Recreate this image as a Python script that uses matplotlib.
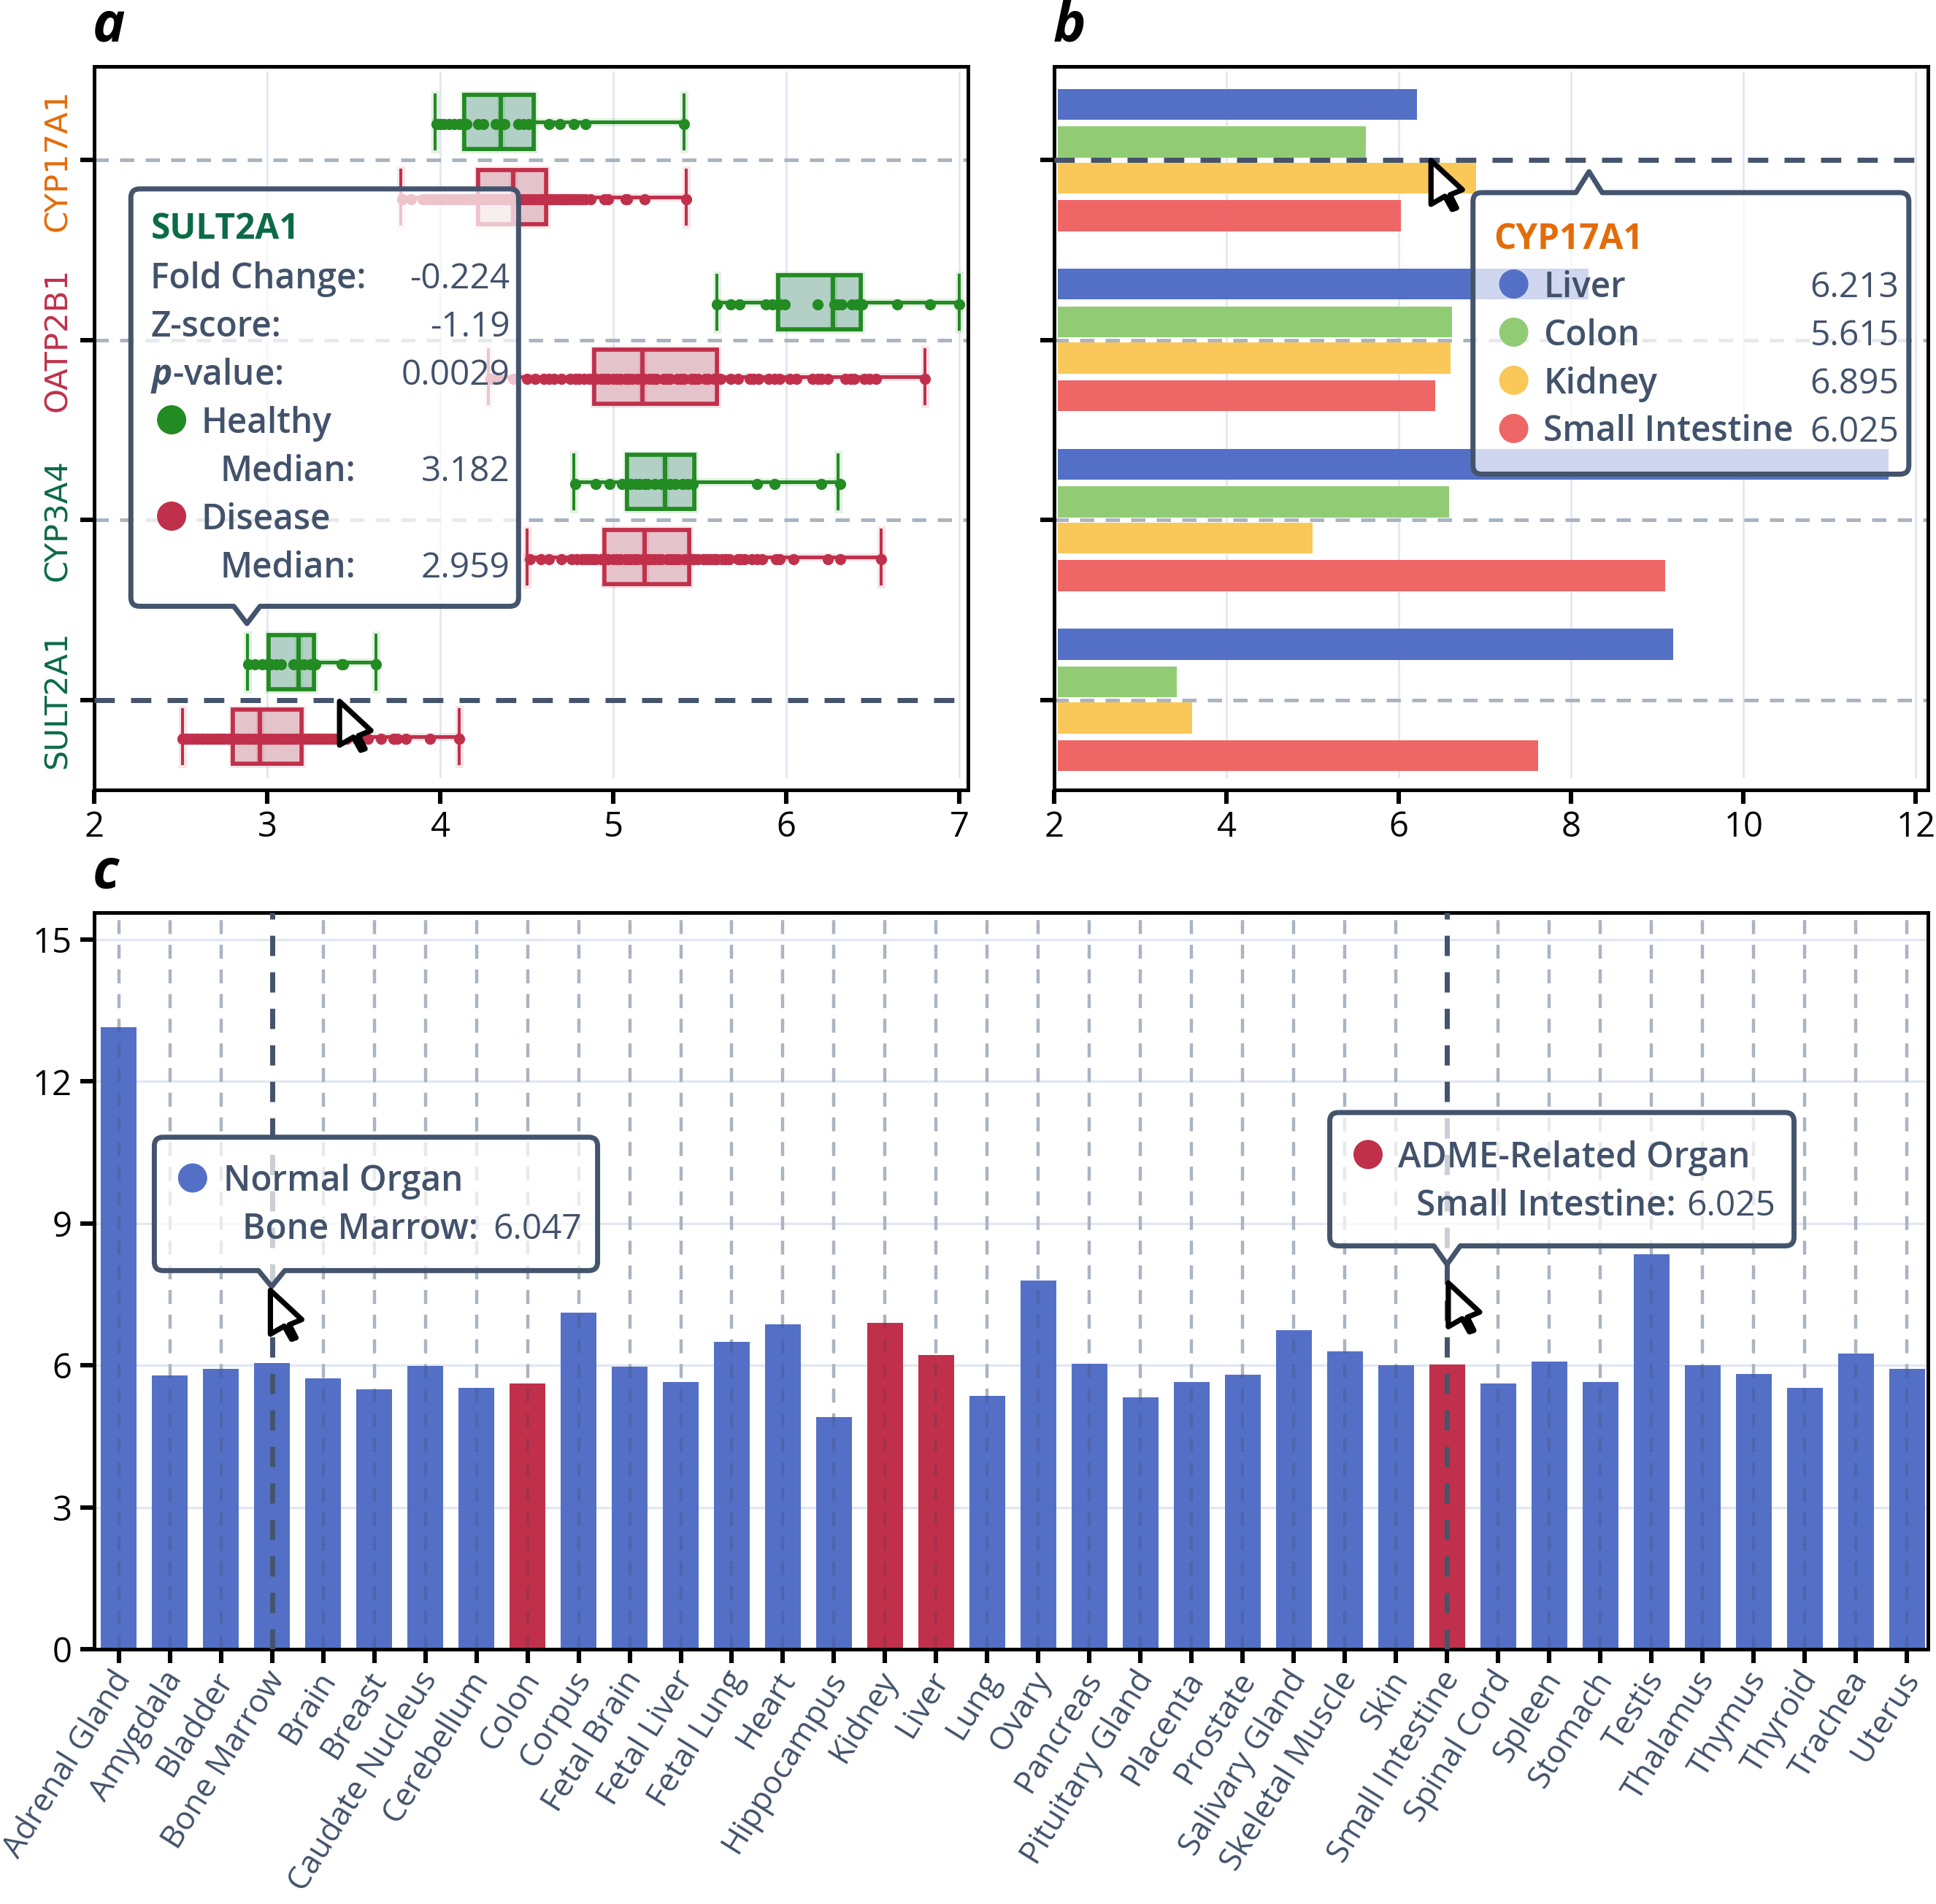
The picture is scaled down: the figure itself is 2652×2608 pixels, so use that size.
"""Gene expression panels with tooltips (boxplots, grouped bars, organ bars)."""
import matplotlib
matplotlib.use("Agg")
import matplotlib.pyplot as plt
import matplotlib.patheffects as pe
from matplotlib.patches import PathPatch, Polygon, Circle
from matplotlib.path import Path
from matplotlib.transforms import ScaledTranslation

# ---- data ----------------------------------------------------------------
GENES = ["CYP17A1", "OATP2B1", "CYP3A4", "SULT2A1"]
GENE_COLORS = ["#e36c09", "#c1304b", "#0b6b45", "#0b6b45"]

# box stats per gene, top to bottom: whisker low, q1, median, q3, whisker high
HEALTHY_LO = [3.97, 5.60, 4.77, 2.885]
HEALTHY_Q1 = [4.14, 5.955, 5.08, 3.01]
HEALTHY_MED = [4.35, 6.27, 5.30, 3.182]
HEALTHY_Q3 = [4.54, 6.43, 5.47, 3.27]
HEALTHY_HI = [5.41, 7.00, 6.30, 3.63]

DISEASE_LO = [3.77, 4.28, 4.50, 2.51]
DISEASE_Q1 = [4.22, 4.89, 4.95, 2.80]
DISEASE_MED = [4.42, 5.17, 5.18, 2.959]
DISEASE_Q3 = [4.61, 5.60, 5.44, 3.20]
DISEASE_HI = [5.42, 6.80, 6.55, 4.11]

HEALTHY_PTS = [
    [3.98, 4.0, 4.02, 4.05, 4.08, 4.11, 4.13, 4.15, 4.22, 4.25, 4.32, 4.35, 4.37,
     4.45, 4.48, 4.51, 4.63, 4.69, 4.77, 4.84, 5.41],
    [5.6, 5.68, 5.73, 5.88, 5.92, 5.96, 5.99, 6.18, 6.28, 6.3, 6.32, 6.38, 6.41,
     6.44, 6.64, 6.83, 7.0],
    [4.78, 4.9, 4.98, 5.05, 5.1, 5.13, 5.15, 5.18, 5.2, 5.24, 5.28, 5.3, 5.33,
     5.36, 5.4, 5.43, 5.46, 5.83, 5.93, 6.2, 6.31],
    [2.89, 2.93, 2.97, 3.0, 3.02, 3.05, 3.08, 3.15, 3.18, 3.21, 3.25, 3.28, 3.43,
     3.44, 3.63],
]
DISEASE_PTS = [
    [3.78, 3.83, 3.9, 3.92, 3.94, 3.96, 3.98, 4.0, 4.02, 4.04, 4.05, 4.07, 4.09, 4.11,
     4.12, 4.14, 4.16, 4.18, 4.19, 4.21, 4.22, 4.24, 4.25, 4.27, 4.28, 4.3, 4.32, 4.34,
     4.35, 4.37, 4.38, 4.4, 4.41, 4.43, 4.45, 4.47, 4.48, 4.5, 4.51, 4.53, 4.55, 4.57,
     4.58, 4.6, 4.62, 4.64, 4.65, 4.67, 4.69, 4.71, 4.72, 4.74, 4.76, 4.78, 4.8, 4.82,
     4.84, 4.87, 4.95, 4.97, 5.07, 5.08, 5.18, 5.42],
    [4.29, 4.34, 4.42, 4.5, 4.55, 4.6, 4.63, 4.66, 4.7, 4.75, 4.78, 4.8, 4.83, 4.86,
     4.88, 4.9, 4.93, 4.95, 4.97, 5.0, 5.02, 5.04, 5.07, 5.09, 5.11, 5.14, 5.16, 5.18,
     5.21, 5.23, 5.25, 5.29, 5.31, 5.33, 5.37, 5.39, 5.41, 5.45, 5.47, 5.49, 5.53, 5.55,
     5.58, 5.62, 5.68, 5.72, 5.79, 5.81, 5.84, 5.9, 5.93, 5.96, 6.02, 6.06, 6.15, 6.18,
     6.2, 6.24, 6.34, 6.37, 6.39, 6.45, 6.48, 6.52, 6.8],
    [4.52, 4.58, 4.63, 4.7, 4.76, 4.79, 4.82, 4.84, 4.86, 4.88, 4.9, 4.93, 4.95, 4.97,
     5.0, 5.02, 5.04, 5.07, 5.09, 5.1, 5.12, 5.14, 5.17, 5.19, 5.2, 5.22, 5.24, 5.26,
     5.28, 5.31, 5.33, 5.34, 5.36, 5.38, 5.41, 5.43, 5.45, 5.47, 5.49, 5.52, 5.54, 5.56,
     5.58, 5.6, 5.63, 5.65, 5.67, 5.72, 5.74, 5.76, 5.8, 5.83, 5.86, 5.94, 5.96, 6.04,
     6.24, 6.31, 6.55],
    [2.51, 2.53, 2.54, 2.56, 2.57, 2.59, 2.6, 2.62, 2.63, 2.65, 2.66, 2.68, 2.69, 2.71,
     2.72, 2.74, 2.75, 2.77, 2.78, 2.8, 2.81, 2.83, 2.84, 2.86, 2.87, 2.89, 2.9, 2.92,
     2.93, 2.95, 2.96, 2.98, 2.99, 3.01, 3.02, 3.04, 3.05, 3.07, 3.08, 3.1, 3.11, 3.13,
     3.14, 3.16, 3.17, 3.19, 3.2, 3.22, 3.23, 3.25, 3.26, 3.28, 3.29, 3.31, 3.33, 3.35,
     3.37, 3.39, 3.41, 3.46, 3.52, 3.58, 3.66, 3.73, 3.75, 3.8, 3.94, 4.11],
]

# panel b, genes top to bottom
ORGANS = ["Liver", "Colon", "Kidney", "Small Intestine"]
ORGAN_COLORS = ["#5470c6", "#91cc75", "#fac858", "#ee6666"]
LIVER_VALS = [6.213, 8.2, 11.68, 9.18]
COLON_VALS = [5.615, 6.62, 6.58, 3.42]
KIDNEY_VALS = [6.895, 6.6, 5.0, 3.6]
SMALL_INT_VALS = [6.025, 6.42, 9.09, 7.62]

# panel c
TISSUES = ["Adrenal Gland", "Amygdala", "Bladder", "Bone Marrow", "Brain", "Breast",
           "Caudate Nucleus", "Cerebellum", "Colon", "Corpus", "Fetal Brain",
           "Fetal Liver", "Fetal Lung", "Heart", "Hippocampus", "Kidney", "Liver",
           "Lung", "Ovary", "Pancreas", "Pituitary Gland", "Placenta", "Prostate",
           "Salivary Gland", "Skeletal Muscle", "Skin", "Small Intestine",
           "Spinal Cord", "Spleen", "Stomach", "Testis", "Thalamus", "Thymus",
           "Thyroid", "Trachea", "Uterus"]
TISSUE_VALS = [13.15, 5.78, 5.92, 6.047, 5.72, 5.5, 5.98, 5.53, 5.615, 7.12, 5.97,
               5.65, 6.5, 6.87, 4.9, 6.895, 6.213, 5.36, 7.8, 6.03, 5.33, 5.65, 5.8,
               6.75, 6.3, 6.0, 6.025, 5.62, 6.08, 5.65, 8.35, 6.0, 5.82, 5.52, 6.25,
               5.92]
ADME = ["Colon", "Kidney", "Liver", "Small Intestine"]

# ---- style ---------------------------------------------------------------
INK = "#42526b"
GRID = "#e2e7f2"
DASH = "#abb4c1"
DARK = "#44546d"
BLUE, RED, GREEN = "#5470c6", "#c1304b", "#228b22"
S = 2652 / 1568

plt.rcParams.update({
    "font.family": ["Open Sans", "DejaVu Sans"],
    "mathtext.fontset": "custom",
    "mathtext.bfit": "Open Sans:italic:bold",
    "axes.linewidth": 1.8,
    "xtick.major.size": 7, "xtick.major.width": 2.2, "xtick.major.pad": 3,
    "ytick.major.size": 7, "ytick.major.width": 2.2, "ytick.major.pad": 4,
    "xtick.labelsize": 17, "ytick.labelsize": 17,
})

W, H = 2652, 2608
fig = plt.figure(figsize=(W / 200, H / 200), dpi=200, facecolor="white")


def add_ax(x0, y0, x1, y1):
    return fig.add_axes([x0 / W, 1 - y1 / H, (x1 - x0) / W, (y1 - y0) / H])


def gray_h(ax, y):
    ax.axhline(y, color=DASH, lw=1.8, dashes=(3.9, 3.1), zorder=1.5)


def dark_h(ax, y):
    ax.axhline(y, color=DARK, lw=2.5, dashes=(4.0, 3.2), zorder=6)


# ---- panel a -------------------------------------------------------------
ax_a = add_ax(129, 91, 1326, 1082)
ax_a.set_xlim(2, 7.05)
ax_a.set_ylim(-0.5, 3.52)
ax_a.set_xticks([2, 3, 4, 5, 6, 7])
ypos = [3, 2, 1, 0]
ax_a.set_yticks(ypos)
ax_a.set_yticklabels([])
for x in [3, 4, 5, 6, 7]:
    ax_a.axvline(x, ymin=0.018, ymax=0.992, color=GRID, lw=1.0, zorder=0)
for y, g in zip(ypos, GENES):
    if g == "SULT2A1":
        dark_h(ax_a, y)
    else:
        gray_h(ax_a, y)


def boxes(ax, lo, q1, med, q3, hi, pts, off, col, fill):
    stats = [dict(whislo=a, q1=b, med=c, q3=d, whishi=e)
             for a, b, c, d, e in zip(lo, q1, med, q3, hi)]
    pos = [y + off for y in ypos]
    soft = [pe.withStroke(linewidth=4, foreground=col, alpha=0.12), pe.Normal()]
    art = ax.bxp(stats, positions=pos, widths=0.3, capwidths=0.3, orientation="horizontal",
                 patch_artist=True, showfliers=False, manage_ticks=False,
                 boxprops=dict(facecolor=fill, edgecolor=col, linewidth=2.0),
                 medianprops=dict(color=col, linewidth=2.0),
                 whiskerprops=dict(color=col, linewidth=1.7),
                 capprops=dict(color=col, linewidth=1.4), zorder=3)
    for key in ["boxes", "medians", "whiskers", "caps"]:
        for a in art[key]:
            a.set_path_effects(soft)
    for p, vals in zip(pos, pts):
        ax.scatter(vals, [p - 0.012] * len(vals), s=30, color=col, lw=0, zorder=4)


boxes(ax_a, HEALTHY_LO, HEALTHY_Q1, HEALTHY_MED, HEALTHY_Q3, HEALTHY_HI, HEALTHY_PTS,
      0.21, GREEN, "#b2d0c5")
boxes(ax_a, DISEASE_LO, DISEASE_Q1, DISEASE_MED, DISEASE_Q3, DISEASE_HI, DISEASE_PTS,
      -0.205, RED, "#e5c3ca")

# gene labels are a bit wider than the tick font
for y, g, c in zip(ypos, GENES, GENE_COLORS):
    ax_a.annotate(g, xy=(0, y), xycoords=("axes fraction", "data"), xytext=(-50 / 2.78, 0),
                  textcoords="offset points", rotation=90, ha="center", va="center",
                  fontsize=15.6, color=c, family="DejaVu Sans")

# ---- panel b -------------------------------------------------------------
ax_b = add_ax(1444, 91, 2641, 1082)
ax_b.set_xlim(2, 12.14)
ax_b.set_ylim(-0.5, 3.52)
ax_b.set_xticks([2, 4, 6, 8, 10, 12])
ax_b.set_yticks(ypos)
ax_b.set_yticklabels([])
for x in [4, 6, 8, 10, 12]:
    ax_b.axvline(x, ymin=0.018, ymax=0.992, color=GRID, lw=1.0, zorder=0)
for y, g in zip(ypos, GENES):
    if g == "CYP17A1":
        dark_h(ax_b, y)
    else:
        gray_h(ax_b, y)
base = 2.04
offsets = [0.31, 0.1, -0.1, -0.31]
for vals, off, col in zip([LIVER_VALS, COLON_VALS, KIDNEY_VALS, SMALL_INT_VALS], offsets, ORGAN_COLORS):
    ax_b.barh([y + off for y in ypos], [v - base for v in vals], left=base,
              height=0.172, color=col, zorder=2)

# ---- panel c -------------------------------------------------------------
ax_c = add_ax(129, 1250, 2641, 2259)
xs = list(range(len(TISSUES)))
ax_c.set_xlim(-0.48, 35.41)
ax_c.set_ylim(0, 15.57)
ax_c.set_yticks([0, 3, 6, 9, 12, 15])
for y in [3, 6, 9, 12, 15]:
    ax_c.axhline(y, color=GRID, lw=1.2, zorder=0)
colors = [RED if t in ADME else BLUE for t in TISSUES]
ax_c.bar(xs, TISSUE_VALS, width=0.7, color=colors, zorder=2)
for x, t, v in zip(xs, TISSUES, TISSUE_VALS):
    if t in ("Bone Marrow", "Small Intestine"):
        ax_c.axvline(x, color=DARK, lw=2.5, dashes=(4.0, 3.2), zorder=5)
    else:
        # gray on white, only a slightly darker shade where it crosses the bar
        ax_c.axvline(x, color=DASH, lw=1.6, dashes=(4.3, 3.3), zorder=1)
        ax_c.plot([x, x], [0, v], color="#2f3d52", lw=1.6, dashes=(4.3, 3.3), zorder=3, alpha=0.2)
ax_c.set_xticks(xs)
ax_c.set_xticklabels(TISSUES, rotation=58, ha="right", va="top", rotation_mode="anchor",
                     color=INK, fontsize=15.8)
ax_c.tick_params(axis="x", pad=1)
nudge = ScaledTranslation(-4 / 72, 0, fig.dpi_scale_trans)
for lab in ax_c.get_xticklabels():
    lab.set_transform(lab.get_transform() + nudge)

# ---- overlay: tooltips, cursors, panel letters ---------------------------
ov = fig.add_axes([0, 0, 1, 1], zorder=10)
ov.set_xlim(0, W)
ov.set_ylim(H, 0)
ov.axis("off")
ov.patch.set_alpha(0)


def tooltip(x0, y0, x1, y1, tipx, tipy):
    """Rounded box with a small pointer on the top or bottom edge (preview coords)."""
    x0, y0, x1, y1, tipx, tipy = [v * S for v in (x0, y0, x1, y1, tipx, tipy)]
    r = 12
    hw = 18
    M, L, C = Path.MOVETO, Path.LINETO, Path.CURVE3
    v = [(x0 + r, y0)]
    c = [M]
    if tipy < y0:
        v += [(tipx - hw, y0), (tipx, tipy), (tipx + hw, y0)]
        c += [L, L, L]
    v += [(x1 - r, y0), (x1, y0), (x1, y0 + r), (x1, y1 - r), (x1, y1), (x1 - r, y1)]
    c += [L, C, C, L, C, C]
    if tipy > y1:
        v += [(tipx + hw, y1), (tipx, tipy), (tipx - hw, y1)]
        c += [L, L, L]
    v += [(x0 + r, y1), (x0, y1), (x0, y1 - r), (x0, y0 + r), (x0, y0), (x0 + r, y0)]
    c += [L, C, C, L, C, C]
    ov.add_patch(PathPatch(Path(v, c), fc=(1, 1, 1, 0.72), ec=DARK, lw=2.5, zorder=2, joinstyle="round"))


def T(x, y, s, ha="left", w="normal", col=INK, fs=17.2, st="normal"):
    ov.text(x * S, (y + 1) * S, s, ha=ha, va="center", fontweight=w, color=col, fontsize=fs,
            style=st, zorder=3)


def dot(x, y, col):
    ov.add_patch(Circle((x * S, y * S), 20, fc=col, ec="none", zorder=3))


CURSOR = [(0, 0), (0, 60), (19, 49), (29, 67), (35, 65), (26, 47), (43, 40)]


def cursor(x, y):
    pts = [(x * S + a, y * S + b) for a, b in CURSOR]
    ov.add_patch(Polygon(pts, closed=True, fc="white", ec="black", lw=2.6, joinstyle="round", zorder=4))


# panel a tooltip
tooltip(106, 153, 420, 491, 200, 505)
T(122, 185, "SULT2A1", w="bold", col=GENE_COLORS[3])
T(122, 225, "Fold Change:", w=600)
T(413, 225, "-0.224", ha="right")
T(122, 264, "Z-score:", w=600)
T(413, 264, "-1.19", ha="right")
T(122, 303, r"$\mathbfit{p}$-value:", w=600)
T(413, 303, "0.0029", ha="right")
dot(139, 340, GREEN)
T(163, 342, "Healthy", w=600)
T(178, 381, "Median:", w=600)
T(413, 381, f"{HEALTHY_MED[3]:.3f}", ha="right")
dot(139, 418, RED)
T(163, 420, "Disease", w=600)
T(178, 459, "Median:", w=600)
T(413, 459, f"{DISEASE_MED[3]:.3f}", ha="right")

# panel b tooltip
tooltip(1193, 156, 1546, 384, 1287, 139)
T(1210, 193, GENES[0], w="bold", col=GENE_COLORS[0])
for yy, name, col, val in zip([232, 271, 310, 349], ORGANS, ORGAN_COLORS,
                              [LIVER_VALS[0], COLON_VALS[0], KIDNEY_VALS[0], SMALL_INT_VALS[0]]):
    dot(1226, yy - 2, col)
    T(1250, yy, name, w=600)
    T(1538, yy, f"{val:.3f}", ha="right")

# panel c tooltips
tooltip(125, 921, 484, 1029, 220, 1042)
dot(156, 954, BLUE)
T(181, 956, "Normal Organ", w=600)
T(196, 995, "Bone Marrow:", w=600)
T(471, 995, f"{TISSUE_VALS[TISSUES.index('Bone Marrow')]:.3f}", ha="right")

tooltip(1077, 901, 1453, 1009, 1172, 1024)
dot(1108, 935, RED)
T(1132, 937, "ADME-Related Organ", w=600)
T(1147, 976, "Small Intestine:", w=600)
T(1438, 976, f"{TISSUE_VALS[TISSUES.index('Small Intestine')]:.3f}", ha="right")

for cx, cy in [(275, 568), (1159, 130), (219, 1045), (1173, 1039)]:
    cursor(cx, cy)

for lx, ly, s in [(75, 22, "a"), (853, 22, "b"), (75, 708, "c")]:
    ov.text(lx * S, ly * S, s, fontsize=27, fontweight="bold", style="italic",
            ha="left", va="center", color="black")

fig.savefig("out.png", dpi=200)
